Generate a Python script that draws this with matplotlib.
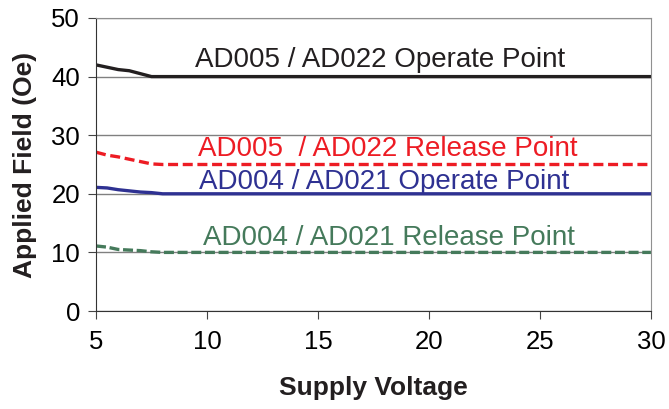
import matplotlib.pyplot as plt

plt.rcParams['font.family'] = ['Liberation Sans', 'DejaVu Sans']

# supply voltage (V)
voltage = [5, 5.5, 6, 6.5, 7, 7.5, 8, 10, 15, 20, 25, 30]
# applied field (Oe)
ad005_operate = [42, 41.6, 41.2, 41, 40.5, 40, 40, 40, 40, 40, 40, 40]
ad005_release = [27.1, 26.6, 26.3, 25.9, 25.5, 25.1, 25, 25, 25, 25, 25, 25]
ad004_operate = [21.1, 21, 20.7, 20.5, 20.3, 20.2, 20, 20, 20, 20, 20, 20]
ad004_release = [11.1, 10.9, 10.5, 10.4, 10.3, 10.1, 10, 10, 10, 10, 10, 10]

labels = ["AD005 / AD022 Operate Point", "AD005  / AD022 Release Point",
          "AD004 / AD021 Operate Point", "AD004 / AD021 Release Point"]
colors = ["#231f20", "#ed1c24", "#2e3192", "#457a5b"]
label_x = [17.8, 18.15, 18.0, 18.2]
label_y = [41.6, 26.4, 20.8, 11.2]

fig = plt.figure(figsize=(6.69, 4.09), dpi=100)
ax = fig.add_axes([0.1435, 0.2396, 0.8295, 0.7164])

ax.plot(voltage, ad005_operate, color=colors[0], lw=2.4)
ax.plot(voltage, ad005_release, color=colors[1], lw=2.4, dashes=(3, 1.4))
ax.plot(voltage, ad004_operate, color=colors[2], lw=2.4)
ax.plot(voltage, ad004_release, color=colors[3], lw=2.4, dashes=(3, 1.1))

for lab, c, x, y in zip(labels, colors, label_x, label_y):
    ax.text(x, y, lab, color=c, fontsize=20, ha='center', va='baseline')

ax.set_xlim(5, 30)
ax.set_ylim(0, 50)
ax.set_xticks([5, 10, 15, 20, 25, 30])
ax.set_yticks([0, 10, 20, 30, 40, 50])
ax.yaxis.grid(True, color='#808080', lw=1)
ax.set_axisbelow(True)
ax.tick_params(labelsize=18.5, length=5.5, direction='out', color='#444444', pad=6)
ax.tick_params(axis='x', pad=8)

for s in ['top', 'right']:
    ax.spines[s].set_color('#909090')
for s in ['left', 'bottom']:
    ax.spines[s].set_color('#333333')

ax.set_xlabel("Supply Voltage", fontsize=19, fontweight='bold', labelpad=16,
              color='#231f20')
ax.set_ylabel("Applied Field (Oe)", fontsize=19, fontweight='bold', labelpad=10,
              color='#231f20')

fig.savefig("out.png", dpi=100)
